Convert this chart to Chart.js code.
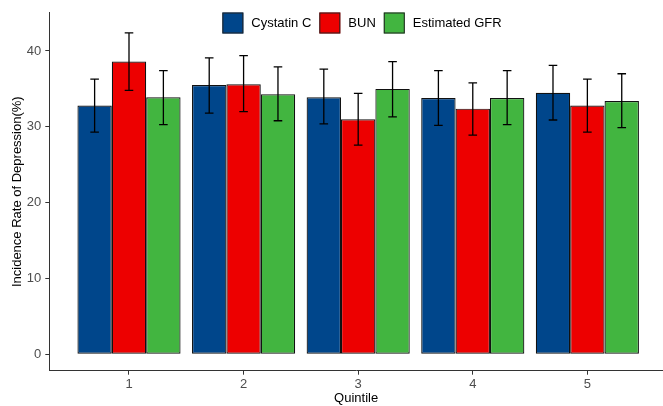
<!DOCTYPE html>
<html lang="en">
<head>
<meta charset="UTF-8">
<title>Incidence Rate of Depression by Quintile</title>
<script src="https://cdn.jsdelivr.net/npm/chart.js"></script>
<style>
    html, body { margin: 0; padding: 0; background: #fff; }
    #wrap { position: relative; width: 663px; height: 406px; }
</style>
</head>
<body>
<div id="wrap"><canvas id="chart"></canvas></div>
<script>
// categories and tick labels
const quintiles = [1, 2, 3, 4, 5];
const yTicks = [0, 10, 20, 30, 40];

// series names / colours (lancet palette)
const seriesNames = ['Cystatin C', 'BUN', 'Estimated GFR'];
const seriesColors = ['#00468B', '#ED0000', '#42B540'];

// bar heights (%)
const cystatinC = [32.8, 35.5, 33.9, 33.8, 34.5];
const bun = [38.6, 35.6, 31.0, 32.4, 32.8];
const egfr = [33.9, 34.3, 35.0, 33.8, 33.4];

// error bar limits
const cystatinLow = [29.3, 31.8, 30.4, 30.2, 30.9];
const cystatinHigh = [36.3, 39.1, 37.6, 37.4, 38.1];
const bunLow = [34.8, 32.0, 27.6, 28.9, 29.3];
const bunHigh = [42.4, 39.4, 34.4, 35.8, 36.3];
const egfrLow = [30.3, 30.8, 31.3, 30.3, 29.9];
const egfrHigh = [37.4, 37.9, 38.6, 37.4, 37.0];

const values = [cystatinC, bun, egfr];
const lows = [cystatinLow, bunLow, egfrLow];
const highs = [cystatinHigh, bunHigh, egfrHigh];

const FONT = '"Liberation Sans", Arial, sans-serif';

// whiskers on top of each bar
const errorBars = {
    id: 'errorBars',
    afterDatasetsDraw(chart) {
        const ctx = chart.ctx;
        const y = chart.scales.y;
        ctx.save();
        ctx.strokeStyle = '#000';
        ctx.lineWidth = 1.3;
        chart.data.datasets.forEach((ds, i) => {
            chart.getDatasetMeta(i).data.forEach((bar, j) => {
                const top = y.getPixelForValue(highs[i][j]);
                const bottom = y.getPixelForValue(lows[i][j]);
                const half = bar.width / 8;
                ctx.beginPath();
                ctx.moveTo(bar.x, top);
                ctx.lineTo(bar.x, bottom);
                ctx.moveTo(bar.x - half, top);
                ctx.lineTo(bar.x + half, top);
                ctx.moveTo(bar.x - half, bottom);
                ctx.lineTo(bar.x + half, bottom);
                ctx.stroke();
            });
        });
        ctx.restore();
    }
};

// legend sits inside the panel at the top
const insideLegend = {
    id: 'insideLegend',
    afterDraw(chart) {
        const ctx = chart.ctx;
        ctx.save();
        ctx.font = '13px ' + FONT;
        ctx.textBaseline = 'middle';
        const box = 21, gapText = 8, gapItem = 8;
        let total = 0;
        seriesNames.forEach((n, i) => {
            total += box + gapText + ctx.measureText(n).width;
            if (i < seriesNames.length - 1) total += gapItem;
        });
        let x = 362 - total / 2;
        const top = 12.5;
        seriesNames.forEach((n, i) => {
            ctx.fillStyle = seriesColors[i];
            ctx.fillRect(x, top, box, box);
            ctx.strokeStyle = '#222';
            ctx.lineWidth = 1;
            ctx.strokeRect(x + 0.5, top + 0.5, box - 1, box - 1);
            ctx.fillStyle = '#000';
            ctx.fillText(n, x + box + gapText, top + box / 2 + 0.5);
            x += box + gapText + ctx.measureText(n).width + gapItem;
        });
        ctx.restore();
    }
};

new Chart(document.getElementById('chart'), {
    type: 'bar',
    data: {
        datasets: seriesNames.map((name, i) => ({
            label: name,
            data: quintiles.map((q, j) => ({ x: q, y: values[i][j] })),
            backgroundColor: seriesColors[i],
            borderColor: '#111',
            borderWidth: 1.2,
            borderSkipped: false,
            categoryPercentage: 0.9,
            barPercentage: 1
        }))
    },
    options: {
        responsive: true,
        maintainAspectRatio: false,
        animation: false,
        layout: { padding: { top: 12.7, right: 0, bottom: 0, left: 0 } },
        plugins: {
            legend: { display: false },
            tooltip: { enabled: false }
        },
        scales: {
            x: {
                type: 'linear',
                offset: false,
                min: 0.3045,
                max: 5.66,
                afterBuildTicks: s => { s.ticks = quintiles.map(v => ({ value: v })); },
                afterFit: s => { s.height = 35.3; },
                grid: { display: true, drawOnChartArea: false, drawTicks: true, tickLength: 4, color: '#333', offset: false },
                border: { display: true, color: '#333', width: 1 },
                ticks: { color: '#4D4D4D', font: { family: FONT, size: 13 }, padding: 2, maxRotation: 0 },
                title: { display: true, text: 'Quintile', color: '#000', font: { family: FONT, size: 13 }, padding: { top: 0, bottom: 0 } }
            },
            y: {
                min: -2.16,
                max: 45.05,
                afterBuildTicks: s => { s.ticks = yTicks.map(v => ({ value: v })); },
                afterFit: s => { s.width = 49.3; },
                grid: { display: true, drawOnChartArea: false, drawTicks: true, tickLength: 4, color: '#333' },
                border: { display: true, color: '#333', width: 1 },
                ticks: { color: '#4D4D4D', font: { family: FONT, size: 13 }, padding: 4 },
                title: { display: true, text: 'Incidence Rate of Depression(%)', color: '#000', font: { family: FONT, size: 13 }, padding: { top: 10, bottom: 0 } }
            }
        }
    },
    plugins: [errorBars, insideLegend]
});
</script>
</body>
</html>
